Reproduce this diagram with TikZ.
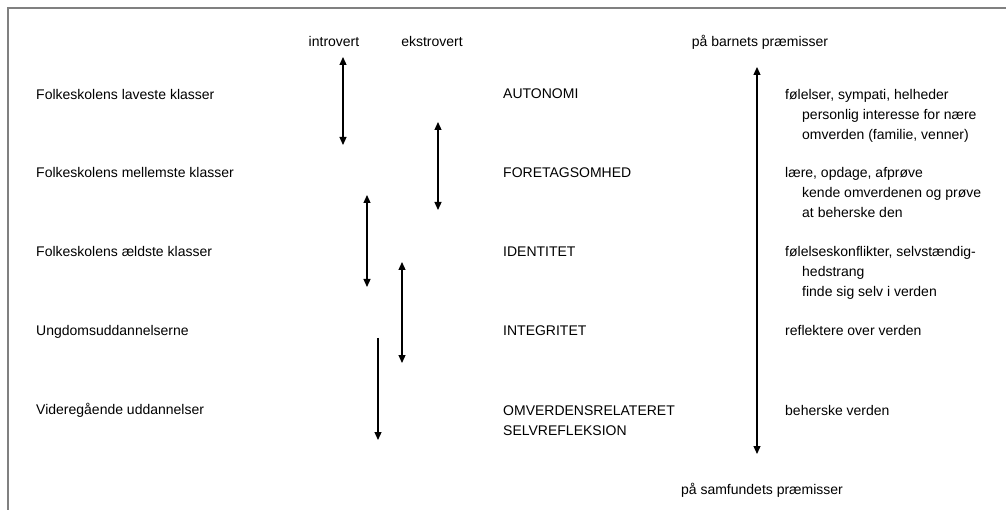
\documentclass[tikz,border=0pt]{standalone}
\usepackage{fontspec}
\setmainfont{Liberation Sans}
\usetikzlibrary{arrows.meta}

\begin{document}
\begin{tikzpicture}[x=1pt, y=-1pt,
  every node/.style = {inner sep=0pt, anchor=base west, font=\fontsize{14}{17}\selectfont},
  pole/.style = {anchor=base},
  frameline/.style = {draw=black!50, line width=2pt},
  twoway/.style = {{Triangle[width=7pt,length=8pt]}-{Triangle[width=7pt,length=8pt]}, line width=1.2pt},
  oneway/.style = {-{Triangle[width=7pt,length=8pt]}, line width=1.2pt}]

\useasboundingbox (0,0) rectangle (1006,510);
\draw[frameline] (8,510) -- (8,8) -- (1006,8);

% top and bottom labels
\node[pole] (intro)  at (334,47)  {introvert};
\node[pole] (ekstro) at (432,47)  {ekstrovert};
\node[pole] (barn)   at (760,47)  {på barnets præmisser};
\node[pole] (samf)   at (762,494) {på samfundets præmisser};

% school levels
\node (lav)   at (36,100) {Folkeskolens laveste klasser};
\node (mel)   at (36,178) {Folkeskolens mellemste klasser};
\node (ald)   at (36,257) {Folkeskolens ældste klasser};
\node (ungd)  at (36,335) {Ungdomsuddannelserne};
\node (vider) at (36,414) {Videregående uddannelser};

% stages
\node (auto)  at (503,99)  {AUTONOMI};
\node (fore)  at (503,178) {FORETAGSOMHED};
\node (iden)  at (503,257) {IDENTITET};
\node (inte)  at (503,336) {INTEGRITET};
\node (omv)   at (503,415) {OMVERDENSRELATERET};
\node (selv)  at (503,435) {SELVREFLEKSION};

% notes
\node (auto1) at (785,100) {følelser, sympati, helheder};
\node (auto2) at (802,120) {personlig interesse for nære};
\node (auto3) at (802,140) {omverden (familie, venner)};
\node (fore1) at (785,178) {lære, opdage, afprøve};
\node (fore2) at (802,198) {kende omverdenen og prøve};
\node (fore3) at (802,218) {at beherske den};
\node (iden1) at (785,257) {følelseskonflikter, selvstændig-};
\node (iden2) at (802,277) {hedstrang};
\node (iden3) at (802,297) {finde sig selv i verden};
\node (inte1) at (785,336) {reflektere over verden};
\node (omv1)  at (785,415) {beherske verden};

% arrow ends
\coordinate (i1a) at (343,57);  \coordinate (i1b) at (343,145);
\coordinate (e1a) at (438,122); \coordinate (e1b) at (438,210);
\coordinate (i2a) at (367,195); \coordinate (i2b) at (367,287);
\coordinate (e2a) at (402,262); \coordinate (e2b) at (402,363);
\coordinate (i3a) at (378,338); \coordinate (i3b) at (378,440);
\coordinate (topa) at (757,67); \coordinate (topb) at (757,454);

\draw[twoway] (i1a) -- (i1b);
\draw[twoway] (e1a) -- (e1b);
\draw[twoway] (i2a) -- (i2b);
\draw[twoway] (e2a) -- (e2b);
\draw[oneway] (i3a) -- (i3b);
\draw[twoway] (topa) -- (topb);
\end{tikzpicture}
\end{document}
